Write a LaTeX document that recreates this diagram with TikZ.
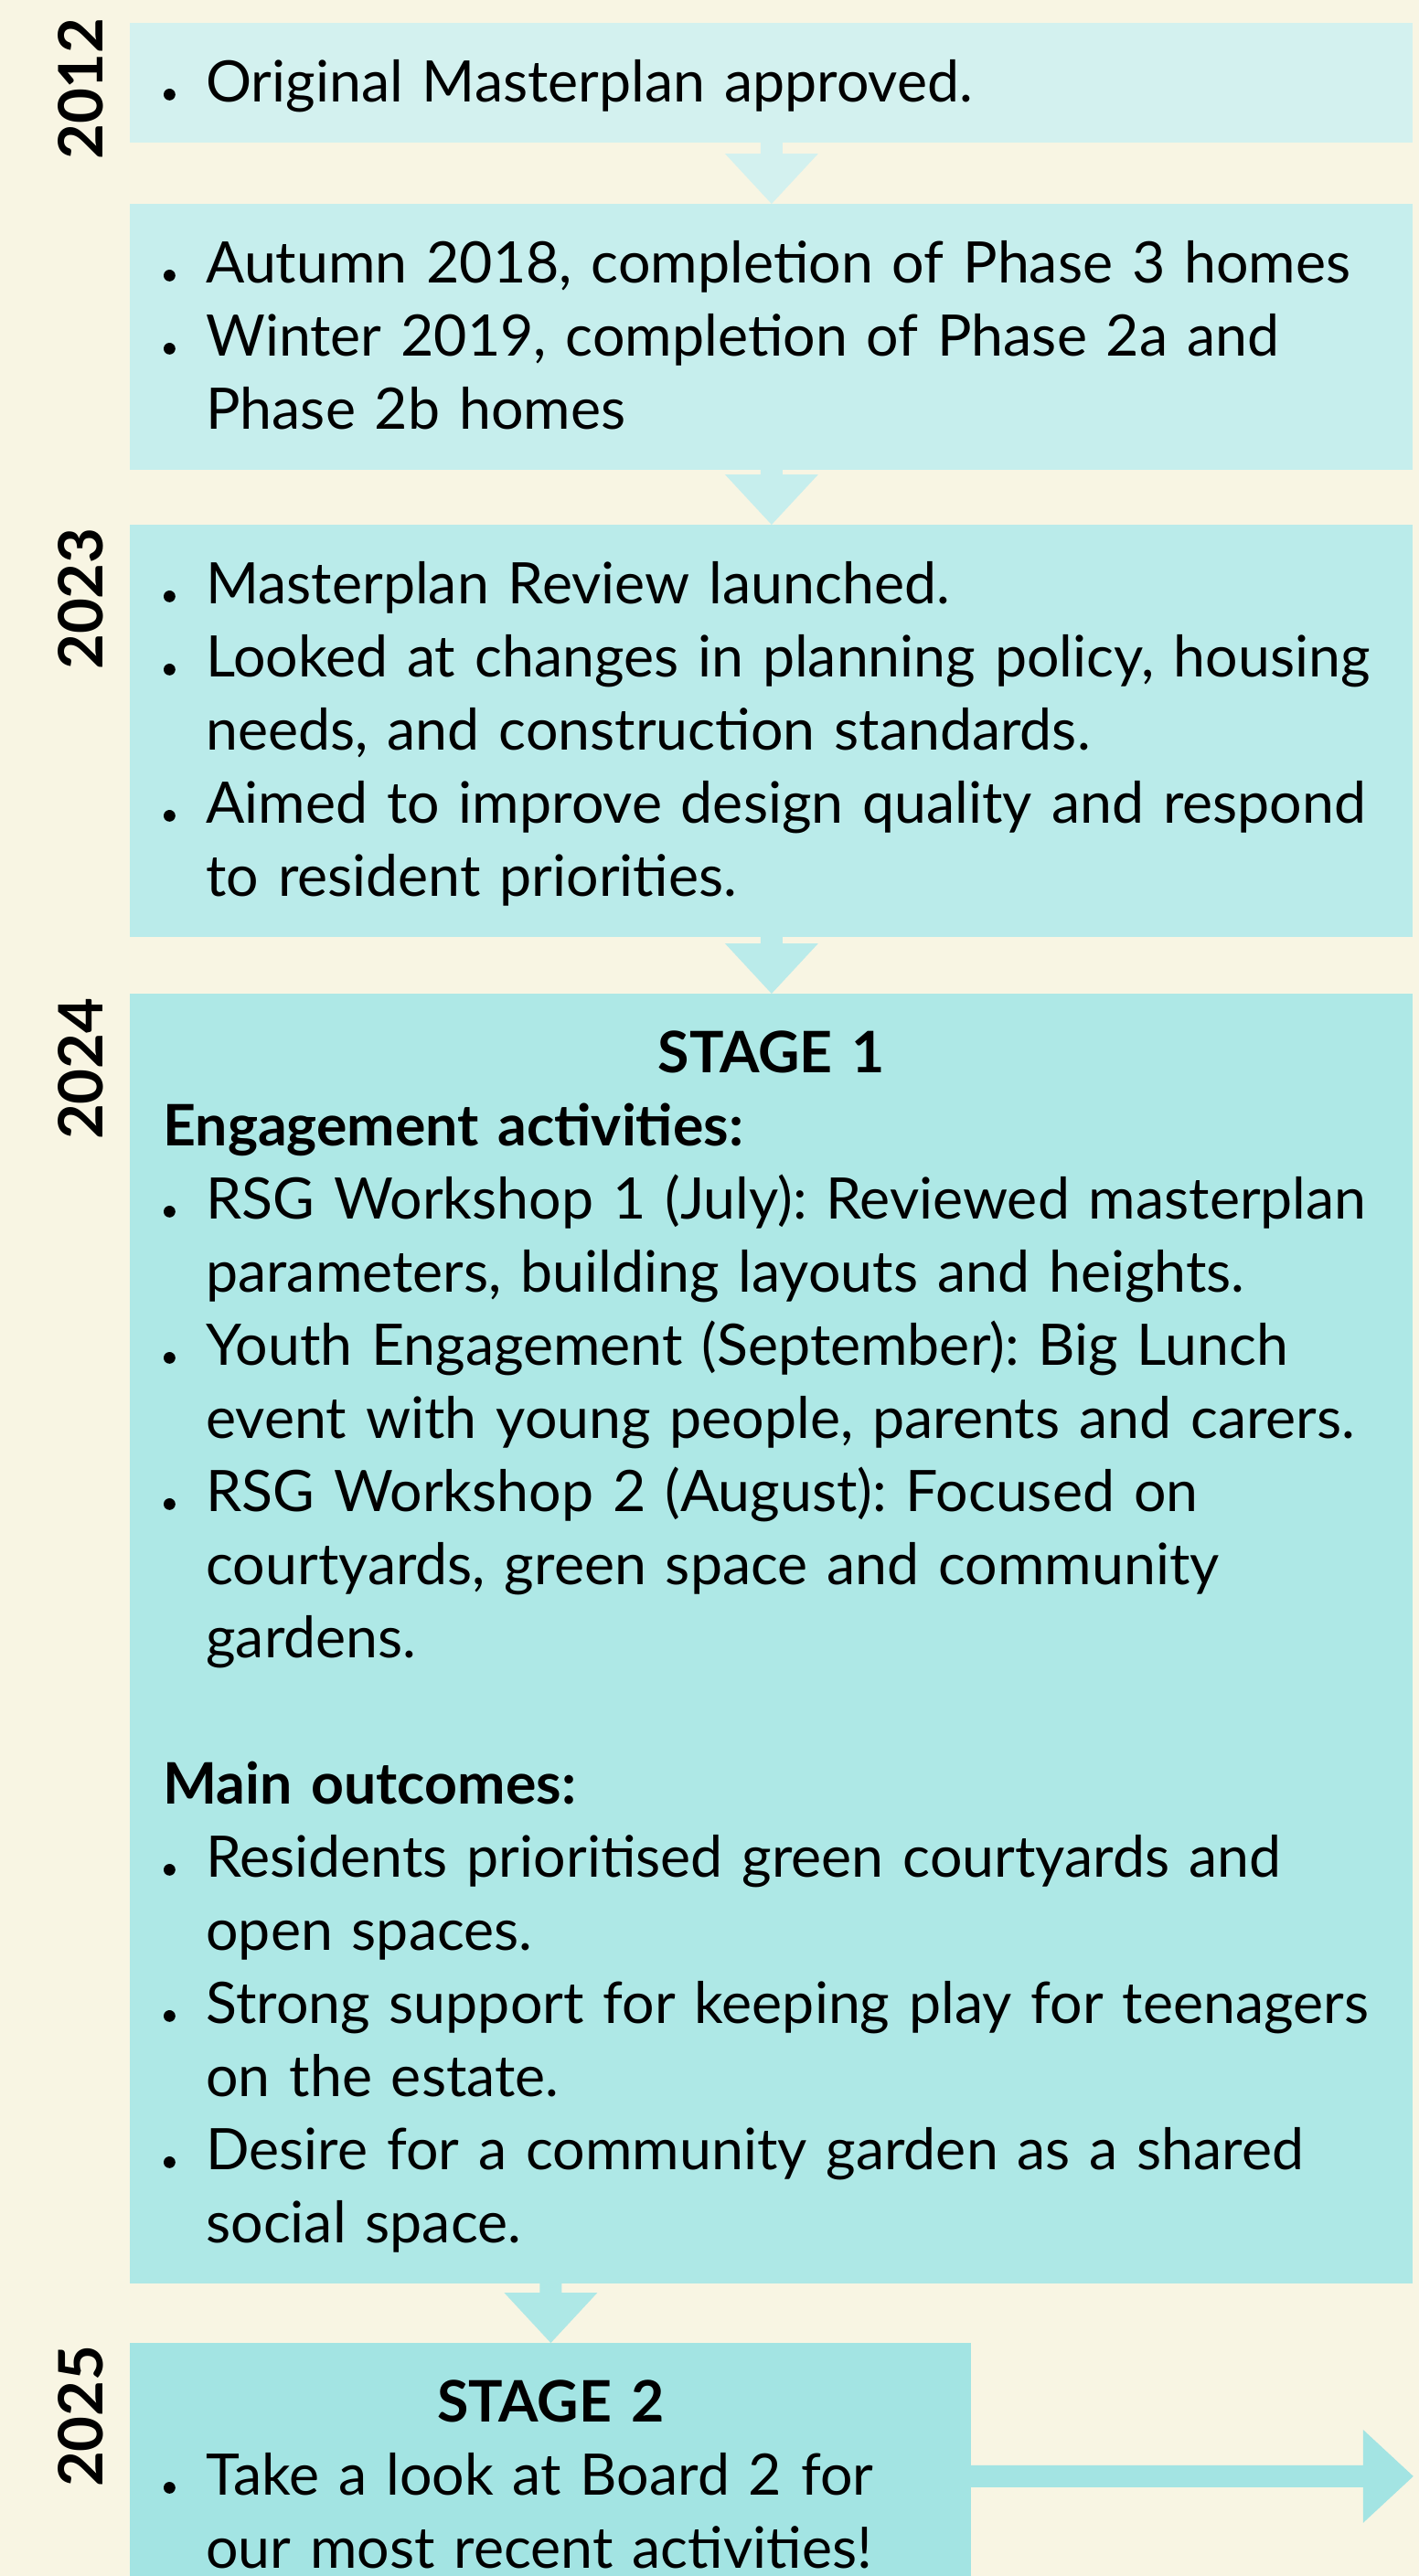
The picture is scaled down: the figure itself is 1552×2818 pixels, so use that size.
\documentclass[tikz,border=0pt]{standalone}
\usepackage{fontspec}
\setmainfont{Lato}
\usetikzlibrary{calc}

\definecolor{cream}{HTML}{F8F5E3}
\definecolor{tealA}{HTML}{D3F1EF}
\definecolor{tealB}{HTML}{C6EEED}
\definecolor{tealC}{HTML}{BAEBEA}
\definecolor{tealD}{HTML}{AEE8E6}
\definecolor{tealE}{HTML}{A3E4E3}

\setlength{\parindent}{0pt}
\frenchspacing
\newcommand\lnstrut{\rule[-9.75pt]{0pt}{40pt}}
\newcommand\dotmark{\tikz[baseline=0pt]\fill[black] (0pt,0pt) (3.5pt,4pt) circle (3.2pt);}
\newcommand\itm[1]{\hangindent=23.5pt\hangafter=1\noindent\lnstrut\makebox[23.5pt][l]{\dotmark}#1\lnstrut\par}
\newcommand\head[1]{\noindent\lnstrut\textbf{#1}\par}
\newcommand\stage[1]{{\centering\bfseries\lnstrut #1\par}}

% block arrows, coloured like the box they leave
\newcommand\flowdown[3]{%
  \fill[#3] ($(#2.north |- #1.south)+(-12,1)$) -- ($(#2.north)+(-12,55)$) -- ($(#2.north)+(-51,55)$)
    -- (#2.north) -- ($(#2.north)+(51,55)$) -- ($(#2.north)+(12,55)$) -- ($(#2.north |- #1.south)+(12,1)$) -- cycle;}
\newcommand\flowright[3]{%
  \fill[#3] ($(#1.east)+(-1,12)$) -- ($(#2)+(-55,12)$) -- ($(#2)+(-55,51)$)
    -- (#2) -- ($(#2)+(-55,-51)$) -- ($(#2)+(-55,-12)$) -- ($(#1.east)+(-1,-12)$) -- cycle;}

\begin{document}
\begin{tikzpicture}[x=0.5pt,y=0.5pt,
    box/.style={anchor=north west, inner xsep=18pt, inner ysep=12.75pt, text width=665.5pt,
      align=left, font=\fontsize{31.3pt}{40pt}\selectfont},
    year/.style={rotate=90, anchor=east, inner sep=0pt, font=\fontsize{33.5pt}{33.5pt}\selectfont\bfseries}]
  \clip (0,0) rectangle (1552,-2818);
  \fill[cream] (0,0) rectangle (1552,-2818);

  \node[box, fill=tealA] (b1) at (142,-25) {\itm{Original Masterplan approved.}};
  \node[box, fill=tealB] (b2) at (142,-223) {%
    \itm{Autumn 2018, completion of Phase 3 homes}
    \itm{Winter 2019, completion of Phase 2a and\newline Phase 2b homes}};
  \node[box, fill=tealC] (b3) at (142,-574) {%
    \itm{Masterplan Review launched.}
    \itm{Looked at changes in planning policy, housing\newline needs, and construction standards.}
    \itm{Aimed to improve design quality and respond\newline to resident priorities.}};
  \node[box, fill=tealD] (b4) at (142,-1087) {%
    \stage{STAGE 1}
    \head{Engagement activities:}
    \itm{RSG Workshop 1 (July): Reviewed masterplan\newline parameters, building layouts and heights.}
    \itm{Youth Engagement (September): Big Lunch\newline event with young people, parents and carers.}
    \itm{RSG Workshop 2 (August): Focused on\newline courtyards, green space and community\newline gardens.}
    \vspace{40pt}
    \head{Main outcomes:}
    \itm{Residents prioritised green courtyards and\newline open spaces.}
    \itm{Strong support for keeping play for teenagers\newline on the estate.}
    \itm{Desire for a community garden as a shared\newline social space.}};
  \node[box, fill=tealE, text width=424pt] (b5) at (142,-2563) {%
    \stage{STAGE 2}
    \itm{Take a look at Board 2 for\newline our most recent activities!}};

  \node[year] (y2012) at ($(b1.north west)+(-54,6)$) {2012};
  \node[year] (y2023) at ($(b3.north west)+(-54,-3)$) {2023};
  \node[year] (y2024) at ($(b4.north west)+(-54,-4)$) {2024};
  \node[year] (y2025) at ($(b5.north west)+(-54,-2)$) {2025};

  \flowdown{b1}{b2}{tealA}
  \flowdown{b2}{b3}{tealB}
  \flowdown{b3}{b4}{tealC}
  \flowdown{b4}{b5}{tealD}
  \path (b5.east) ++(483,0) coordinate (board2);
  \flowright{b5}{board2}{tealE}
\end{tikzpicture}
\end{document}
